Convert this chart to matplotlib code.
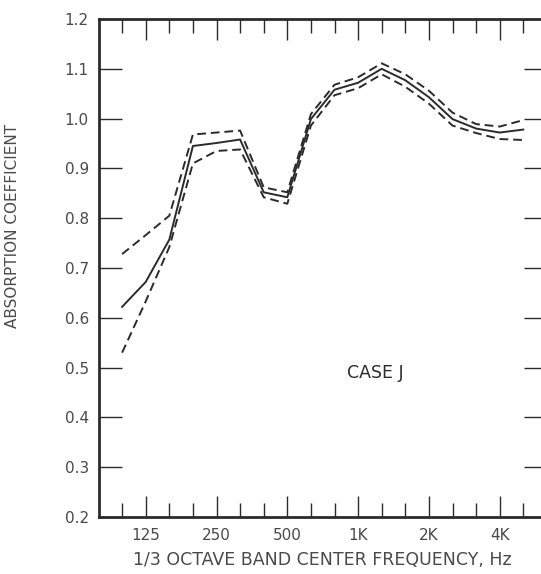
import numpy as np
import matplotlib
matplotlib.use("Agg")
import matplotlib.pyplot as plt

# 1/3 octave band centres (plotted at equal spacing, one slot per band)
bands = ["100", "125", "160", "200", "250", "315", "400", "500", "630",
         "800", "1K", "1.25K", "1.6K", "2K", "2.5K", "3.15K", "4K", "5K"]
octave_labels = ["125", "250", "500", "1K", "2K", "4K"]

# mean absorption coefficient (solid) and upper / lower bounds (dashed)
mean_alpha = [0.622, 0.672, 0.757, 0.945, 0.951, 0.958, 0.852, 0.842, 0.999,
              1.058, 1.072, 1.100, 1.077, 1.043, 0.999, 0.980, 0.972, 0.978]
upper_alpha = [0.728, 0.766, 0.805, 0.968, 0.972, 0.976, 0.862, 0.852, 1.009,
               1.068, 1.083, 1.111, 1.089, 1.056, 1.012, 0.989, 0.984, 0.997]
lower_alpha = [0.530, 0.633, 0.742, 0.910, 0.935, 0.938, 0.842, 0.829, 0.986,
               1.047, 1.061, 1.089, 1.064, 1.030, 0.986, 0.971, 0.959, 0.957]

y_ticks = [0.2, 0.3, 0.4, 0.5, 0.6, 0.7, 0.8, 0.9, 1.0, 1.1, 1.2]

ink = "#2b2b2b"
txt = "#4a4a4a"

x = np.arange(len(bands))

fig = plt.figure(figsize=(5.41, 5.74), dpi=100)
ax = fig.add_axes([0.1821, 0.0993, 0.8288, 0.8676])

ax.plot(x, mean_alpha, color=ink, lw=1.4)
ax.plot(x, upper_alpha, color=ink, lw=1.4, linestyle=(0, (4.5, 2.5)))
ax.plot(x, lower_alpha, color=ink, lw=1.4, linestyle=(0, (4.5, 2.5)))

ax.set_xlim(-1, 18)
ax.set_ylim(0.2, 1.2)

# octave centres get long ticks + labels, the other thirds get short ticks
major_idx = [bands.index(b) for b in octave_labels]
minor_idx = [i for i in range(len(bands)) if i not in major_idx]
ax.set_xticks(major_idx)
ax.set_xticklabels(octave_labels)
ax.set_xticks(minor_idx, minor=True)
ax.tick_params(axis="x", which="major", direction="in", length=15,
               width=1.0, top=True, bottom=True, color=ink,
               labelsize=11, labelcolor=txt, pad=8)
ax.tick_params(axis="x", which="minor", direction="in", length=10,
               width=1.0, top=True, bottom=True, color=ink)

ax.set_yticks(y_ticks)
ax.set_yticklabels([f"{v:.1f}" for v in y_ticks])
ax.tick_params(axis="y", which="major", direction="in", length=16.5,
               width=1.0, left=True, right=True, color=ink,
               labelsize=11, labelcolor=txt, pad=7)

for s in ax.spines.values():
    s.set_linewidth(2.0)
    s.set_color(ink)

ax.set_xlabel("1/3 OCTAVE BAND CENTER FREQUENCY, Hz", fontsize=12.5,
              color=txt, labelpad=6)
ax.set_ylabel("ABSORPTION COEFFICIENT", fontsize=11, color=txt)
ax.yaxis.set_label_coords(-0.176, 0.585)

ax.text(9.55, 0.49, "CASE J", fontsize=12.5, color=ink, va="center", ha="left")

fig.savefig("out.png", dpi=100)
